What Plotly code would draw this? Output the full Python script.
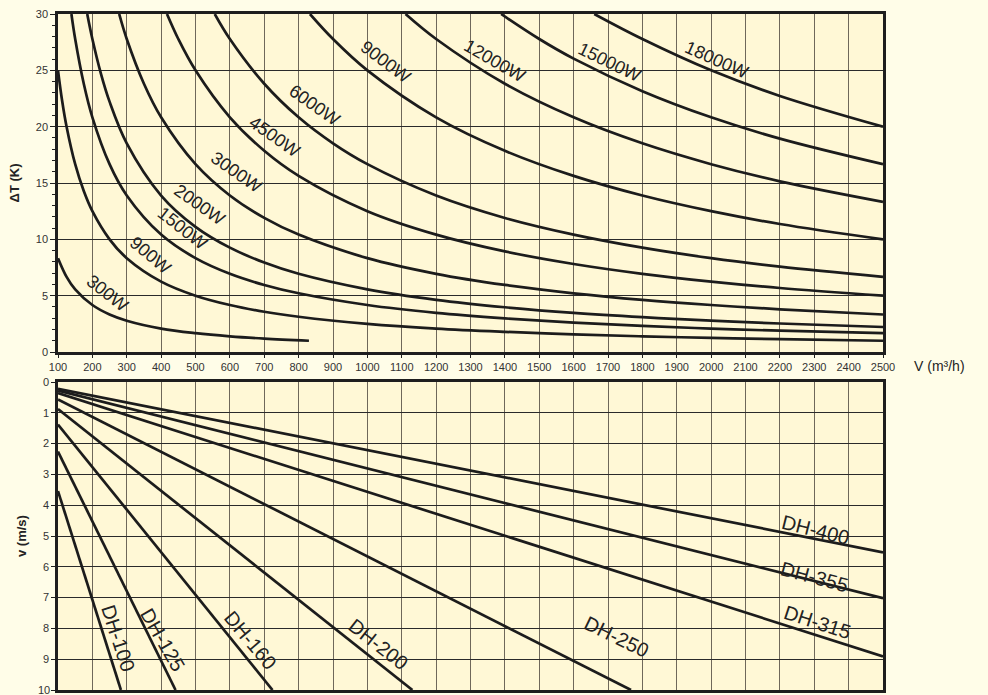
import plotly.graph_objects as go

# ---------------- Top panel: heat output curves (V in m3/h, dT in K) ----------------
q300_v = [100, 125, 150, 200, 250, 300, 400, 500, 600, 700, 830]
q300_t = [8.33, 6.67, 5.56, 4.17, 3.33, 2.78, 2.08, 1.67, 1.39, 1.19, 1.0]

q900_v = [100, 112, 125, 150, 175, 200, 250, 300, 400, 500, 600, 700, 800, 1000, 1200, 1400, 1600, 1800, 2000, 2200, 2500]
q900_t = [25.0, 22.3, 20.0, 16.67, 14.29, 12.5, 10.0, 8.33, 6.25, 5.0, 4.17, 3.57, 3.13, 2.5, 2.08, 1.79, 1.56, 1.39, 1.25, 1.14, 1.0]

q1500_v = [139, 150, 175, 200, 250, 300, 400, 500, 600, 700, 800, 1000, 1200, 1400, 1600, 1800, 2000, 2200, 2500]
q1500_t = [30.0, 27.78, 23.81, 20.83, 16.67, 13.89, 10.42, 8.33, 6.94, 5.95, 5.21, 4.17, 3.47, 2.98, 2.60, 2.31, 2.08, 1.89, 1.67]

q2000_v = [185, 200, 225, 250, 300, 400, 500, 600, 700, 800, 1000, 1200, 1400, 1600, 1800, 2000, 2200, 2500]
q2000_t = [30.0, 27.78, 24.69, 22.22, 18.52, 13.89, 11.11, 9.26, 7.94, 6.94, 5.56, 4.63, 3.97, 3.47, 3.09, 2.78, 2.53, 2.22]

q3000_v = [278, 300, 350, 400, 500, 600, 700, 800, 1000, 1200, 1400, 1600, 1800, 2000, 2200, 2500]
q3000_t = [30.0, 27.78, 23.81, 20.83, 16.67, 13.89, 11.90, 10.42, 8.33, 6.94, 5.95, 5.21, 4.63, 4.17, 3.79, 3.33]

q4500_v = [417, 450, 500, 600, 700, 800, 1000, 1200, 1400, 1600, 1800, 2000, 2200, 2500]
q4500_t = [30.0, 27.78, 25.0, 20.83, 17.86, 15.63, 12.5, 10.42, 8.93, 7.81, 6.94, 6.25, 5.68, 5.0]

q6000_v = [556, 600, 700, 800, 900, 1000, 1200, 1400, 1600, 1800, 2000, 2200, 2500]
q6000_t = [30.0, 27.78, 23.81, 20.83, 18.52, 16.67, 13.89, 11.90, 10.42, 9.26, 8.33, 7.58, 6.67]

q9000_v = [833, 900, 1000, 1200, 1400, 1600, 1800, 2000, 2200, 2500]
q9000_t = [30.0, 27.78, 25.0, 20.83, 17.86, 15.63, 13.89, 12.5, 11.36, 10.0]

q12000_v = [1111, 1200, 1400, 1600, 1800, 2000, 2200, 2500]
q12000_t = [30.0, 27.78, 23.81, 20.83, 18.52, 16.67, 15.15, 13.33]

q15000_v = [1389, 1500, 1600, 1800, 2000, 2200, 2500]
q15000_t = [30.0, 27.78, 26.04, 23.15, 20.83, 18.94, 16.67]

q18000_v = [1660, 1800, 2000, 2200, 2500]
q18000_t = [30.0, 27.78, 25.0, 22.73, 20.0]

heat_names = ["300W", "900W", "1500W", "2000W", "3000W", "4500W",
              "6000W", "9000W", "12000W", "15000W", "18000W"]
heat_v = [q300_v, q900_v, q1500_v, q2000_v, q3000_v, q4500_v,
          q6000_v, q9000_v, q12000_v, q15000_v, q18000_v]
heat_t = [q300_t, q900_t, q1500_t, q2000_t, q3000_t, q4500_t,
          q6000_t, q9000_t, q12000_t, q15000_t, q18000_t]

# label positions (V, dT) and angles
heat_lab_v = [243, 368, 461, 513, 618, 731, 845, 1054, 1371, 1703, 2017]
heat_lab_t = [5.24, 8.61, 11.0, 13.05, 15.98, 19.08, 21.92, 25.74, 25.83, 25.74, 25.92]
heat_lab_a = [38, 40, 38, 35, 35, 35, 35, 37, 30, 26, 24]

# ---------------- Bottom panel: duct velocity lines (V in m3/h, v in m/s) ----------------
duct_names = ["DH-100", "DH-125", "DH-160", "DH-200", "DH-250", "DH-315", "DH-355", "DH-400"]
duct_v0 = [100, 100, 100, 100, 100, 100, 100, 100]
duct_s0 = [3.54, 2.26, 1.38, 0.88, 0.57, 0.36, 0.28, 0.22]
duct_v1 = [283, 442, 724, 1131, 1767, 2500, 2500, 2500]
duct_s1 = [10.0, 10.0, 10.0, 10.0, 10.0, 8.91, 7.02, 5.53]

duct_lab_v = [275, 405, 659, 1031, 1726, 2308, 2302, 2305]
duct_lab_s = [8.31, 8.38, 8.38, 8.51, 8.28, 7.79, 6.33, 4.81]
duct_lab_a = [72, 60, 50, 38, 26, 18, 15, 14]

x_ticks = list(range(100, 2600, 100))

LINE = "#1c1c1c"
TXT = "#232323"
FONT = "Liberation Sans, Arial, sans-serif"

fig = go.Figure()

for name, vs, ts in zip(heat_names, heat_v, heat_t):
    fig.add_trace(go.Scatter(x=vs, y=ts, mode="lines", name=name,
                             line=dict(color=LINE, width=2.7, shape="spline", smoothing=1.0),
                             xaxis="x", yaxis="y", hoverinfo="skip"))

for name, a0, b0, a1, b1 in zip(duct_names, duct_v0, duct_s0, duct_v1, duct_s1):
    fig.add_trace(go.Scatter(x=[a0, a1], y=[b0, b1], mode="lines", name=name,
                             line=dict(color=LINE, width=2.7),
                             xaxis="x2", yaxis="y2", hoverinfo="skip"))

annotations = []
for name, x, y, a in zip(heat_names, heat_lab_v, heat_lab_t, heat_lab_a):
    annotations.append(dict(x=x, y=y, xref="x", yref="y", text=name, showarrow=False,
                            textangle=a, font=dict(family=FONT, size=18, color=TXT)))
for name, x, y, a in zip(duct_names, duct_lab_v, duct_lab_s, duct_lab_a):
    annotations.append(dict(x=x, y=y, xref="x2", yref="y2", text=name, showarrow=False,
                            textangle=a, font=dict(family=FONT, size=20, color=TXT)))
annotations.append(dict(x=1.069, y=0.479, xref="paper", yref="paper", text="V (m³/h)",
                        showarrow=False, xanchor="center", yanchor="middle",
                        font=dict(family=FONT, size=14, color=TXT)))
# bottom-most tick label of the velocity axis (partly cut by the page edge, as in the original)
annotations.append(dict(x=0, y=0, xref="paper", yref="paper", text="10", showarrow=False,
                        xanchor="right", yanchor="middle", xshift=-6,
                        font=dict(family=FONT, size=11, color="#333")))

axis_common = dict(showline=True, mirror=True, linecolor="#1e1e1e", linewidth=2.5,
                   zeroline=False, automargin=False,
                   tickfont=dict(family=FONT, size=11, color="#333"))

fig.update_layout(
    width=988, height=695,
    margin=dict(l=58, r=105, t=14, b=5),
    paper_bgcolor="#FFFDE8",
    plot_bgcolor="#FFF8D6",
    showlegend=False,
    font=dict(family=FONT),
    annotations=annotations,
    xaxis=dict(domain=[0, 1], anchor="y", range=[100, 2500], tickmode="array",
               tickvals=x_ticks, ticks="outside", ticklen=3, tickcolor="#1e1e1e",
               showgrid=True, gridcolor="#6f685a", gridwidth=1, **axis_common),
    yaxis=dict(domain=[0.5, 1], anchor="x", range=[0, 30], dtick=5, tick0=0,
               ticks="outside", ticklen=5, tickcolor="#1e1e1e",
               minor=dict(dtick=1, ticks="outside", ticklen=3, tickcolor="#1e1e1e", showgrid=False),
               showgrid=True, gridcolor="#2a2a2a", gridwidth=1,
               title=dict(text="<b>ΔT (K)</b>", font=dict(family=FONT, size=13, color=TXT), standoff=14),
               **axis_common),
    xaxis2=dict(domain=[0, 1], anchor="y2", range=[100, 2500], tickmode="array",
                tickvals=x_ticks, showticklabels=False, ticks="",
                showgrid=True, gridcolor="#6f685a", gridwidth=1, **axis_common),
    yaxis2=dict(domain=[0, 0.4556], anchor="x2", range=[10, 0], dtick=1, tick0=0,
                ticks="outside", ticklen=4, tickcolor="#1e1e1e",
                showgrid=True, gridcolor="#2a2a2a", gridwidth=1,
                title=dict(text="<b>v (m/s)</b>", font=dict(family=FONT, size=13, color=TXT), standoff=14),
                **axis_common),
)

fig.write_html("out.html",
               config={"displayModeBar": False},
               post_script="document.body.style.margin='0';"
                           "document.body.style.background='#FFFDE8';"
                           "document.documentElement.style.overflow='hidden';")
